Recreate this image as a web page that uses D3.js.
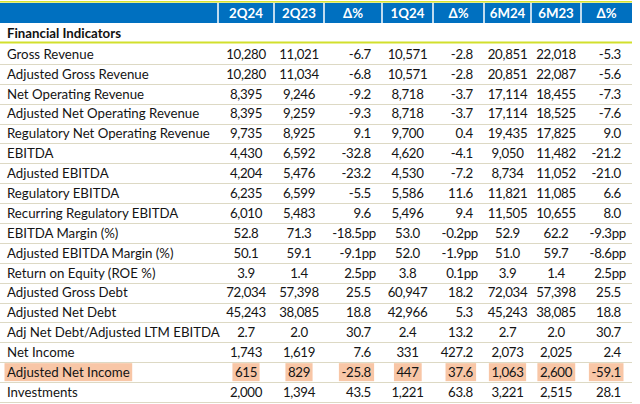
<!DOCTYPE html>
<html><head><meta charset="utf-8">
<script src="https://cdn.jsdelivr.net/npm/d3@7"></script>
<style>body{margin:0;background:#fff}svg{display:block}</style>
</head><body>
<svg id="c" width="640" height="404"></svg>
<script>
// ---------- DATA ----------
const columns = ["2Q24","2Q23","Δ%","1Q24","Δ%","6M24","6M23","Δ%"];
const columnKinds = ["value","value","delta","value","delta","value","value","delta"];
const sectionTitle = "Financial Indicators";
const indicators = [
  "Gross Revenue","Adjusted Gross Revenue","Net Operating Revenue","Adjusted Net Operating Revenue",
  "Regulatory Net Operating Revenue","EBITDA","Adjusted EBITDA","Regulatory EBITDA",
  "Recurring Regulatory EBITDA","EBITDA Margin (%)","Adjusted EBITDA Margin (%)","Return on Equity (ROE %)",
  "Adjusted Gross Debt","Adjusted Net Debt","Adj Net Debt/Adjusted LTM EBITDA","Net Income",
  "Adjusted Net Income","Investments"
];
// "int" = whole numbers with thousands separator, "dec" = one decimal
const valueFormats = ["int","int","int","int","int","int","int","int","int","dec","dec","dec","int","int","dec","int","int","int"];
// change unit: "" = percent change, "pp" = percentage points
const deltaUnits = ["","","","","","","","","","pp","pp","pp","","","","","",""];
const v2Q24  = [10280,10280,8395,8395,9735,4430,4204,6235,6010,52.8,50.1,3.9,72034,45243,2.7,1743,615,2000];
const v2Q23  = [11021,11034,9246,9259,8925,6592,5476,6599,5483,71.3,59.1,1.4,57398,38085,2.0,1619,829,1394];
const dQoQy  = [-6.7,-6.8,-9.2,-9.3,9.1,-32.8,-23.2,-5.5,9.6,-18.5,-9.1,2.5,25.5,18.8,30.7,7.6,-25.8,43.5];
const v1Q24  = [10571,10571,8718,8718,9700,4620,4530,5586,5496,53.0,52.0,3.8,60947,42966,2.4,331,447,1221];
const dQoQ   = [-2.8,-2.8,-3.7,-3.7,0.4,-4.1,-7.2,11.6,9.4,-0.2,-1.9,0.1,18.2,5.3,13.2,427.2,37.6,63.8];
const v6M24  = [20851,20851,17114,17114,19435,9050,8734,11821,11505,52.9,51.0,3.9,72034,45243,2.7,2073,1063,3221];
const v6M23  = [22018,22087,18455,18525,17825,11482,11052,11085,10655,62.2,59.7,1.4,57398,38085,2.0,2025,2600,2515];
const dYoY   = [-5.3,-5.6,-7.3,-7.6,9.0,-21.2,-21.0,6.6,8.0,-9.3,-8.6,2.5,25.5,18.8,30.7,2.4,-59.1,28.1];
const highlightedRow = "Adjusted Net Income";

// ---------- LAYOUT ----------
const seriesByColumn = [v2Q24, v2Q23, dQoQy, v1Q24, dQoQ, v6M24, v6M23, dYoY];
const colWidths = [218,56,50,58,51,51,47,50,51];
const edges = d3.cumsum([0].concat(colWidths));
const colLeft = i => edges[i], colRight = i => edges[i+1];
const tableRight = edges[edges.length-1];

const headerTop = 3, headerBottom = 23, sectionBottom = 43;
const y = d3.scaleBand().domain(indicators).range([44, 402]).paddingInner(0).paddingOuter(0);

const loc = d3.formatLocale({decimal:".", thousands:",", grouping:[3], currency:["",""], minus:"-"});
const fInt = loc.format(",.0f"), fDec = loc.format(".1f");

const FONT = "Lato, 'Open Sans', sans-serif";
const svg = d3.select("#c");

const probe = svg.append("text").attr("font-family", FONT).attr("font-size", 13).text("Regulatory Net Operating Revenue");
const w13 = probe.node().getComputedTextLength();
probe.remove();
const fs = Math.max(11, Math.min(14, 13 * 203 / w13));

svg.append("rect").attr("x",0).attr("y",1).attr("width",tableRight).attr("height",1.6).attr("fill","#d6e233");
svg.append("rect").attr("x",0).attr("y",headerTop).attr("width",tableRight).attr("height",headerBottom-headerTop).attr("fill","#0070c0");
svg.selectAll("line.hsep").data(d3.range(1, colWidths.length)).join("line")
  .attr("x1", i => edges[i]).attr("x2", i => edges[i])
  .attr("y1", headerTop).attr("y2", headerBottom)
  .attr("stroke","#ffffff").attr("stroke-width",1.5);
svg.selectAll("text.head").data(columns).join("text")
  .attr("x", (d,i) => (colLeft(i+1)+colRight(i+1))/2)
  .attr("y", (headerTop+headerBottom)/2).attr("dy","0.36em")
  .attr("text-anchor","middle").attr("font-family",FONT).attr("font-weight","bold")
  .attr("font-size",fs).attr("fill","#ffffff").text(d => d);

svg.append("text").attr("x",7).attr("y",(headerBottom+sectionBottom)/2).attr("dy","0.36em")
  .attr("font-family",FONT).attr("font-weight","bold").attr("font-size",fs).attr("fill","#111")
  .text(sectionTitle);
svg.append("rect").attr("x",0).attr("y",sectionBottom-1.5).attr("width",tableRight).attr("height",2).attr("fill","#d2e02c");

svg.selectAll("line.rsep").data(indicators).join("line")
  .attr("x1",0).attr("x2",tableRight)
  .attr("y1", d => Math.round(y(d)+y.bandwidth())+0.5).attr("y2", d => Math.round(y(d)+y.bandwidth())+0.5)
  .attr("stroke","#ddd9c4").attr("stroke-width",1);

function cellText(ci, ri) {
  const v = seriesByColumn[ci][ri];
  if (columnKinds[ci] === "delta") return fDec(v) + deltaUnits[ri];
  return valueFormats[ri] === "int" ? fInt(v) : fDec(v);
}

const rows = svg.selectAll("g.row").data(indicators).join("g")
  .attr("transform", d => `translate(0,${y(d) + y.bandwidth()/2})`);

rows.each(function(label, ri) {
  const g = d3.select(this);
  const hl = label === highlightedRow;
  const cells = [{text: label, x: 7, anchor: "start", num: false}];
  columns.forEach((c, ci) => {
    const t = cellText(ci, ri);
    let xx, anchor;
    if (columnKinds[ci] === "value") { xx = (colLeft(ci+1)+colRight(ci+1))/2; anchor = "middle"; }
    else { xx = colRight(ci+1) - (deltaUnits[ri] ? 6 : 11); anchor = "end"; }
    cells.push({text: t, x: xx, anchor, num: true});
  });
  cells.forEach(c => {
    const cg = g.append("g");
    const bg = cg.append("rect").attr("fill", hl ? "#f8c6a6" : "none");
    const tx = cg.append("text").attr("x", c.x).attr("y", 0).attr("dy","0.36em")
      .attr("text-anchor", c.anchor).attr("font-family",FONT).attr("font-size",fs)
      .attr("letter-spacing", c.num ? -0.3 : 0)
      .attr("fill","#141414").text(c.text);
    if (hl) {
      const b = tx.node().getBBox();
      bg.attr("x", b.x-2.5).attr("y", -9).attr("width", b.width+5).attr("height", 18);
    }
  });
});
</script>
</body></html>
